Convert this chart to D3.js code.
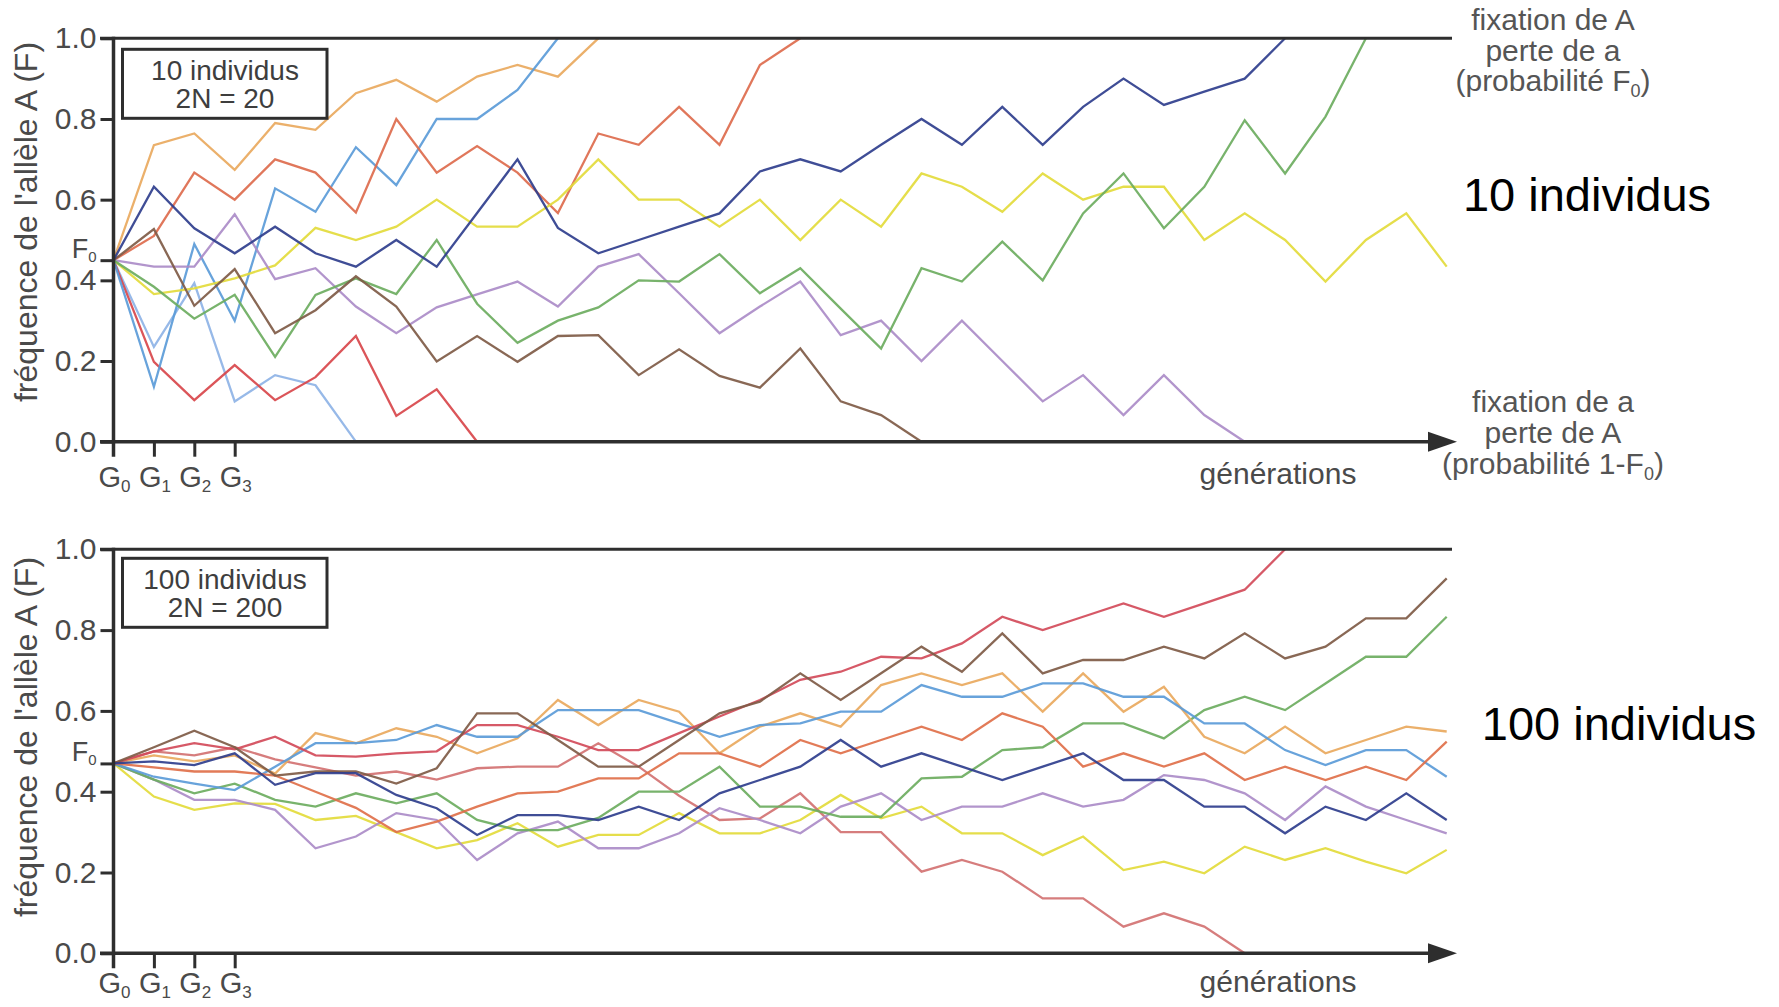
<!DOCTYPE html>
<html><head><meta charset="utf-8">
<script src="https://cdn.jsdelivr.net/npm/d3@7"></script>
<style>
body{margin:0;background:#fff}
svg{display:block}
text{font-family:"Liberation Sans",Arial,Helvetica,sans-serif}
</style>
</head><body>
<svg id="chart" width="1779" height="1007"></svg>
<script>
// ---------------- DATA ----------------
const lastGeneration = 33;
const genTickValues = [1, 2, 3];
const genLabelIndices = ["0", "1", "2", "3"];
const yTickValues = [0, 0.2, 0.4, 0.6, 0.8, 1.0];
const yTitle = "fréquence de l'allèle A (F)";
const xTitle = "générations";

// 10 individus (2N = 20)
const F0_top = 0.45;
const top_tan        = [0.45, 0.735, 0.764, 0.674, 0.79, 0.773, 0.864, 0.897, 0.843, 0.905, 0.934, 0.905, 1.0];
const top_lightBlue  = [0.45, 0.136, 0.49, 0.30, 0.628, 0.57, 0.73, 0.636, 0.80, 0.80, 0.872, 1.0];
const top_redOrange  = [0.45, 0.51, 0.667, 0.60, 0.70, 0.667, 0.568, 0.80, 0.667, 0.733, 0.667, 0.567, 0.764, 0.736, 0.83, 0.736, 0.934, 1.0];
const top_darkBlue   = [0.45, 0.632, 0.529, 0.467, 0.533, 0.467, 0.434, 0.50, 0.434, 0.567, 0.70, 0.53, 0.467, 0.50, 0.533, 0.566, 0.67, 0.70, 0.67, 0.736, 0.80, 0.736, 0.83, 0.736, 0.83, 0.90, 0.835, 0.868, 0.90, 1.0];
const top_yellow     = [0.45, 0.366, 0.38, 0.405, 0.437, 0.53, 0.50, 0.533, 0.60, 0.533, 0.533, 0.60, 0.70, 0.60, 0.60, 0.533, 0.60, 0.50, 0.60, 0.533, 0.665, 0.632, 0.57, 0.665, 0.60, 0.632, 0.632, 0.50, 0.566, 0.50, 0.397, 0.50, 0.566, 0.434];
const top_purple     = [0.45, 0.434, 0.434, 0.564, 0.403, 0.43, 0.335, 0.269, 0.333, 0.365, 0.397, 0.335, 0.434, 0.465, 0.368, 0.269, 0.335, 0.397, 0.264, 0.30, 0.20, 0.30, 0.20, 0.10, 0.165, 0.066, 0.165, 0.066, 0.0];
const top_green      = [0.45, 0.384, 0.305, 0.364, 0.21, 0.364, 0.405, 0.366, 0.50, 0.342, 0.245, 0.30, 0.333, 0.40, 0.397, 0.465, 0.368, 0.43, 0.33, 0.231, 0.43, 0.397, 0.496, 0.40, 0.566, 0.665, 0.529, 0.632, 0.797, 0.665, 0.806, 1.0];
const top_brown      = [0.45, 0.527, 0.337, 0.428, 0.269, 0.326, 0.41, 0.335, 0.199, 0.262, 0.198, 0.262, 0.264, 0.165, 0.229, 0.163, 0.134, 0.231, 0.10, 0.066, 0.0];
const top_redLow     = [0.45, 0.198, 0.103, 0.19, 0.103, 0.16, 0.262, 0.064, 0.13, 0.0];
const top_lightBlue2 = [0.45, 0.235, 0.393, 0.10, 0.165, 0.14, 0.0];

// 100 individus (2N = 200)
const F0_bottom = 0.47;
const bot_red        = [0.47, 0.50, 0.52, 0.505, 0.536, 0.49, 0.487, 0.495, 0.50, 0.565, 0.565, 0.536, 0.503, 0.503, 0.545, 0.586, 0.627, 0.677, 0.697, 0.734, 0.73, 0.767, 0.833, 0.80, 0.833, 0.866, 0.833, 0.866, 0.90, 1.0];
const bot_brown      = [0.47, 0.51, 0.551, 0.51, 0.44, 0.45, 0.45, 0.42, 0.458, 0.594, 0.594, 0.528, 0.462, 0.462, 0.528, 0.594, 0.623, 0.693, 0.627, 0.693, 0.759, 0.697, 0.792, 0.693, 0.726, 0.726, 0.759, 0.73, 0.792, 0.73, 0.759, 0.829, 0.829, 0.928];
const bot_green      = [0.47, 0.43, 0.396, 0.42, 0.38, 0.363, 0.396, 0.371, 0.396, 0.33, 0.305, 0.305, 0.335, 0.40, 0.40, 0.462, 0.363, 0.363, 0.338, 0.338, 0.433, 0.437, 0.503, 0.51, 0.569, 0.569, 0.532, 0.602, 0.635, 0.602, 0.668, 0.734, 0.734, 0.833];
const bot_tan        = [0.47, 0.49, 0.475, 0.49, 0.445, 0.545, 0.52, 0.557, 0.536, 0.495, 0.532, 0.627, 0.565, 0.627, 0.598, 0.495, 0.561, 0.594, 0.561, 0.664, 0.693, 0.664, 0.693, 0.598, 0.693, 0.598, 0.66, 0.536, 0.495, 0.561, 0.495, 0.528, 0.561, 0.549];
const bot_orangeRed  = [0.47, 0.46, 0.45, 0.45, 0.44, 0.40, 0.36, 0.30, 0.326, 0.363, 0.396, 0.40, 0.433, 0.433, 0.495, 0.495, 0.462, 0.528, 0.495, 0.528, 0.561, 0.528, 0.594, 0.561, 0.462, 0.495, 0.462, 0.495, 0.429, 0.462, 0.429, 0.462, 0.429, 0.524];
const bot_lightBlue  = [0.47, 0.437, 0.42, 0.404, 0.462, 0.52, 0.52, 0.528, 0.565, 0.536, 0.536, 0.602, 0.602, 0.602, 0.569, 0.536, 0.565, 0.569, 0.598, 0.598, 0.664, 0.635, 0.635, 0.668, 0.668, 0.635, 0.635, 0.569, 0.569, 0.503, 0.466, 0.503, 0.503, 0.437];
const bot_darkBlue   = [0.47, 0.475, 0.466, 0.495, 0.417, 0.446, 0.446, 0.392, 0.359, 0.293, 0.342, 0.342, 0.33, 0.363, 0.33, 0.396, 0.429, 0.462, 0.528, 0.462, 0.495, 0.462, 0.429, 0.462, 0.495, 0.429, 0.429, 0.363, 0.363, 0.297, 0.363, 0.33, 0.396, 0.33];
const bot_purple     = [0.47, 0.43, 0.38, 0.38, 0.355, 0.26, 0.289, 0.347, 0.33, 0.231, 0.297, 0.326, 0.26, 0.26, 0.297, 0.359, 0.33, 0.297, 0.363, 0.396, 0.33, 0.363, 0.363, 0.396, 0.363, 0.38, 0.441, 0.429, 0.396, 0.33, 0.413, 0.363, 0.33, 0.297];
const bot_yellow     = [0.47, 0.388, 0.355, 0.371, 0.37, 0.33, 0.34, 0.30, 0.26, 0.28, 0.322, 0.264, 0.293, 0.293, 0.347, 0.297, 0.297, 0.33, 0.392, 0.334, 0.363, 0.297, 0.297, 0.243, 0.289, 0.206, 0.227, 0.198, 0.264, 0.231, 0.26, 0.227, 0.198, 0.256];
const bot_pink       = [0.47, 0.50, 0.49, 0.51, 0.48, 0.46, 0.44, 0.45, 0.43, 0.458, 0.462, 0.462, 0.52, 0.462, 0.39, 0.33, 0.334, 0.396, 0.30, 0.30, 0.202, 0.231, 0.202, 0.136, 0.136, 0.066, 0.099, 0.066, 0.0];

// ---------------- STYLE ----------------
const palette = {
  tan: "#e9a95e", lightBlue: "#5b9bd8", redOrange: "#dd6b4d", darkBlue: "#2f3e8d",
  yellow: "#e3db3c", purple: "#ab8cc8", green: "#6cad60", brown: "#7f5b46",
  redLow: "#d8474b", lightBlue2: "#8eb3e6", red: "#d24b5a", orangeRed: "#e0704a", pink: "#d27272"
};
const topSeries = [
  ["lightBlue2", top_lightBlue2], ["redLow", top_redLow], ["tan", top_tan], ["lightBlue", top_lightBlue],
  ["redOrange", top_redOrange], ["yellow", top_yellow], ["purple", top_purple], ["green", top_green],
  ["brown", top_brown], ["darkBlue", top_darkBlue]
];
const botSeries = [
  ["yellow", bot_yellow], ["pink", bot_pink], ["purple", bot_purple], ["green", bot_green],
  ["tan", bot_tan], ["lightBlue", bot_lightBlue], ["orangeRed", bot_orangeRed],
  ["red", bot_red], ["brown", bot_brown], ["darkBlue", bot_darkBlue]
];

const svg = d3.select("#chart");
const AX = "#2e2e2e", TXT = "#4a4a4a";
const x = d3.scaleLinear().domain([0, lastGeneration]).range([113.5, 1446.7]);

function sub(sel, main, s, mainSize, subSize, shift) {
  sel.append("tspan").text(main).attr("font-size", mainSize);
  sel.append("tspan").text(s).attr("font-size", subSize).attr("dy", shift);
}

function drawPanel(cfg) {
  const y = d3.scaleLinear().domain([0, 1]).range([cfg.y0, cfg.y1]);
  const g = svg.append("g");

  // lines
  const line = d3.line().x((d, i) => x(i)).y(d => y(d));
  g.append("g").selectAll("path").data(cfg.series).join("path")
    .attr("d", d => line(d[1]))
    .attr("fill", "none")
    .attr("stroke", d => palette[d[0]])
    .attr("stroke-width", 2.3)
    .attr("stroke-opacity", 0.92);

  // frame lines
  g.append("line").attr("x1", 100).attr("x2", 1452).attr("y1", y(1)).attr("y2", y(1))
    .attr("stroke", AX).attr("stroke-width", 3);
  g.append("line").attr("x1", 100).attr("x2", 1440).attr("y1", y(0)).attr("y2", y(0))
    .attr("stroke", AX).attr("stroke-width", 3.5);
  g.append("path")
    .attr("d", `M1428,${y(0) - 10} L1457,${y(0)} L1428,${y(0) + 10} Z`)
    .attr("fill", AX);
  g.append("line").attr("x1", x(0)).attr("x2", x(0)).attr("y1", y(1) - 1.5).attr("y2", y(0) + 15)
    .attr("stroke", AX).attr("stroke-width", 3.5);

  // y axis ticks
  const yTicks = yTickValues.concat([cfg.F0]).sort((a, b) => a - b);
  const yAxis = d3.axisLeft(y).tickValues(yTicks).tickSize(13).tickPadding(4)
    .tickFormat(d => d === cfg.F0 ? "" : d3.format(".1f")(d));
  const ya = g.append("g").attr("transform", `translate(${x(0)},0)`).call(yAxis);
  ya.select(".domain").remove();
  ya.selectAll(".tick line").attr("stroke", AX).attr("stroke-width", 3);
  ya.selectAll(".tick text").attr("font-size", 30).attr("fill", TXT)
    .attr("font-family", "'Liberation Sans',Arial,sans-serif");
  ya.selectAll(".tick").filter(d => d === cfg.F0).select("text")
    .attr("dy", "-0.1em").call(t => sub(t, "F", "0", 27, 15, 4));

  // x axis ticks
  const xAxis = d3.axisBottom(x).tickValues(genTickValues).tickSize(15).tickFormat("");
  const xa = g.append("g").attr("transform", `translate(0,${y(0)})`).call(xAxis);
  xa.select(".domain").remove();
  xa.selectAll(".tick line").attr("stroke", AX).attr("stroke-width", 3);

  // generation labels
  genLabelIndices.forEach((s, i) => {
    g.append("text").attr("x", x(i) + 1).attr("y", cfg.gBase).attr("text-anchor", "middle")
      .attr("fill", TXT).call(t => sub(t, "G", s, 29, 17, 5));
  });

  // axis titles
  g.append("text").attr("transform", `translate(37,${cfg.yTitleC}) rotate(-90)`)
    .attr("text-anchor", "middle").attr("font-size", 32).attr("fill", TXT).text(yTitle);
  g.append("text").attr("x", 1278).attr("y", cfg.genBase).attr("text-anchor", "middle")
    .attr("font-size", 30).attr("fill", TXT).text(xTitle);

  // legend box
  g.append("rect").attr("x", 122.5).attr("y", cfg.boxY).attr("width", 204.5).attr("height", 69)
    .attr("fill", "#fff").attr("stroke", AX).attr("stroke-width", 3);
  g.append("text").attr("x", 225).attr("y", cfg.boxY + 31).attr("text-anchor", "middle")
    .attr("font-size", 28).attr("fill", "#3e3e3e").text(cfg.box1);
  g.append("text").attr("x", 225).attr("y", cfg.boxY + 59).attr("text-anchor", "middle")
    .attr("font-size", 28).attr("fill", "#3e3e3e").text(cfg.box2);

  // big side label
  g.append("text").attr("x", cfg.bigX).attr("y", cfg.bigY).attr("text-anchor", "middle")
    .attr("font-size", 47).attr("fill", "#000").text(cfg.big);
  return y;
}

drawPanel({
  y0: 441.7, y1: 38.3, F0: F0_top, series: topSeries, gBase: 487, genBase: 484,
  yTitleC: 222, boxY: 49.3, box1: "10 individus", box2: "2N = 20",
  big: "10 individus", bigX: 1587, bigY: 211
});
drawPanel({
  y0: 953.3, y1: 549.3, F0: F0_bottom, series: botSeries, gBase: 993, genBase: 992,
  yTitleC: 737, boxY: 558.3, box1: "100 individus", box2: "2N = 200",
  big: "100 individus", bigX: 1619, bigY: 740
});

// right-side annotations (top panel)
const noteTop = ["fixation de A", "perte de a"];
noteTop.forEach((s, i) => svg.append("text").attr("x", 1553).attr("y", 30 + i * 31)
  .attr("text-anchor", "middle").attr("font-size", 30).attr("fill", "#555").text(s));
svg.append("text").attr("x", 1553).attr("y", 91).attr("text-anchor", "middle")
  .attr("fill", "#555").call(t => {
    t.append("tspan").text("(probabilité F").attr("font-size", 30);
    t.append("tspan").text("0").attr("font-size", 18).attr("dy", 6);
    t.append("tspan").text(")").attr("font-size", 30).attr("dy", -6);
  });
const noteBot = ["fixation de a", "perte de A"];
noteBot.forEach((s, i) => svg.append("text").attr("x", 1553).attr("y", 412 + i * 31)
  .attr("text-anchor", "middle").attr("font-size", 30).attr("fill", "#555").text(s));
svg.append("text").attr("x", 1553).attr("y", 474).attr("text-anchor", "middle")
  .attr("fill", "#555").call(t => {
    t.append("tspan").text("(probabilité 1-F").attr("font-size", 30);
    t.append("tspan").text("0").attr("font-size", 18).attr("dy", 6);
    t.append("tspan").text(")").attr("font-size", 30).attr("dy", -6);
  });
</script>
</body></html>
